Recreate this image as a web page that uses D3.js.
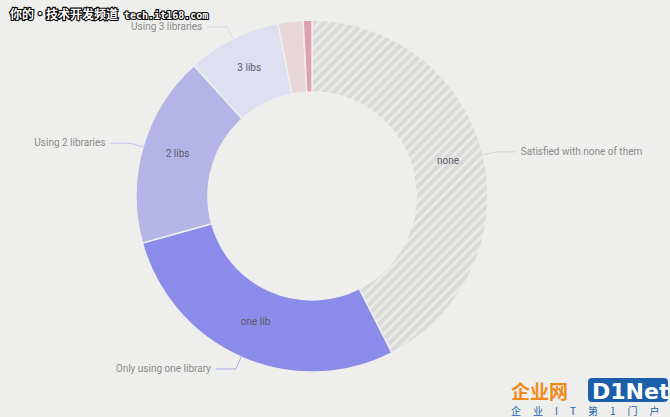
<!DOCTYPE html>
<html><head><meta charset="utf-8">
<script src="https://cdn.jsdelivr.net/npm/d3@7"></script>
<style>
html,body{margin:0;padding:0;background:#eeefec;}
svg{display:block;}
</style></head>
<body>
<script>
const categories = ["none","one lib","2 libs","3 libs","4 libs","5+ libs"];
const values = [42.5, 28.2, 17.6, 8.6, 2.3, 0.8];
const outerLabels = ["Satisfied with none of them","Only using one library","Using 2 libraries","Using 3 libraries",null,null];
const innerLabels = ["none","one lib","2 libs","3 libs",null,null];
const colors = ["url(#hatch)","#8b8be9","#b4b4e6","#dedff0","#e9d6d9","#e0a1ae"];
const lineColors = ["#d4d6d3","#a9a9ef","#c4c4ec","#d8d9ea",null,null];

const W=670,H=417, cx=312, cy=196, R=176, r=104;
const svg=d3.select("body").append("svg").attr("width",W).attr("height",H);
svg.append("rect").attr("width",W).attr("height",H).attr("fill","#eeefec");
const defs=svg.append("defs");
const pat=defs.append("pattern").attr("id","hatch").attr("patternUnits","userSpaceOnUse")
  .attr("width",7).attr("height",7).attr("patternTransform","rotate(45)");
pat.append("rect").attr("width",7).attr("height",7).attr("fill","#d8dad7");
pat.append("rect").attr("width",3).attr("height",7).attr("fill","#e9eae7");

const data=categories.map((c,i)=>({c,v:values[i],i}));
const pie=d3.pie().value(d=>d.v).sort(null);
const arcs=pie(data);
const arc=d3.arc().innerRadius(r).outerRadius(R);
const g=svg.append("g").attr("transform",`translate(${cx},${cy})`);
g.selectAll("path.slice").data(arcs).join("path").attr("class","slice")
  .attr("d",arc).attr("fill",d=>colors[d.index])
  .attr("stroke","#eeefec").attr("stroke-width",1.5);

g.selectAll("text.inner").data(arcs.filter(d=>innerLabels[d.index])).join("text")
  .attr("class","inner")
  .attr("transform",d=>`translate(${arc.centroid(d)})`)
  .attr("dy","0.05em").attr("text-anchor","middle")
  .style("font-family","Roboto, sans-serif").style("font-size","10px").attr("fill","#5a5a6a")
  .text(d=>innerLabels[d.index]);

const edge=d3.arc().innerRadius(R).outerRadius(R);
const knee=d3.arc().innerRadius(189).outerRadius(189);
const lab=arcs.filter(d=>outerLabels[d.index]);
lab.forEach(d=>{
  const mid=(d.startAngle+d.endAngle)/2;
  const right=mid<Math.PI;
  const p0=edge.centroid(d), p1=knee.centroid(d);
  const p2=[p1[0]+(right?20:-20),p1[1]];
  g.append("polyline").attr("points",[p0,p1,p2].map(p=>p.join(",")).join(" "))
    .attr("fill","none").attr("stroke",lineColors[d.index]).attr("stroke-width",1);
  g.append("text").attr("x",p2[0]+(right?5:-5)).attr("y",p2[1]).attr("dy","0.3em")
    .attr("text-anchor",right?"start":"end")
    .style("font-family","Roboto, sans-serif").style("font-size","10px").attr("fill","#8a8a8a")
    .text(outerLabels[d.index]);
});

// watermarks
const wm=svg.append("text").attr("x",10).attr("y",19)
  .attr("fill","#fff").attr("stroke","#000").attr("stroke-width",2.2).attr("paint-order","stroke");
wm.append("tspan").style("font-family","'Noto Sans CJK SC', sans-serif").style("font-size","12px").style("font-weight","bold")
  .text("你的·技术开发频道");
wm.append("tspan").attr("dx",6).style("font-family","'DejaVu Sans Mono', monospace").style("font-size","10px").style("font-weight","bold")
  .text("tech.it168.com");
svg.append("text").attr("x",511).attr("y",399)
  .style("font-family","'Noto Sans CJK SC', sans-serif").style("font-size","19px").style("font-weight","bold")
  .attr("fill","#f08a1c").text("企业网");
svg.append("rect").attr("x",588).attr("y",378).attr("width",80).attr("height",24).attr("rx",4).attr("fill","#1b5faa");
svg.append("text").attr("x",592).attr("y",399)
  .style("font-family","'DejaVu Sans', sans-serif").style("font-size","22px").style("font-weight","bold")
  .attr("fill","#fff").text("D1Net");
svg.append("text").attr("x",511).attr("y",415)
  .style("font-family","'Noto Sans CJK SC', sans-serif").style("font-size","10px")
  .attr("fill","#1b5faa").attr("letter-spacing","12px").text("企业IT第1门户");
</script>
</body></html>
